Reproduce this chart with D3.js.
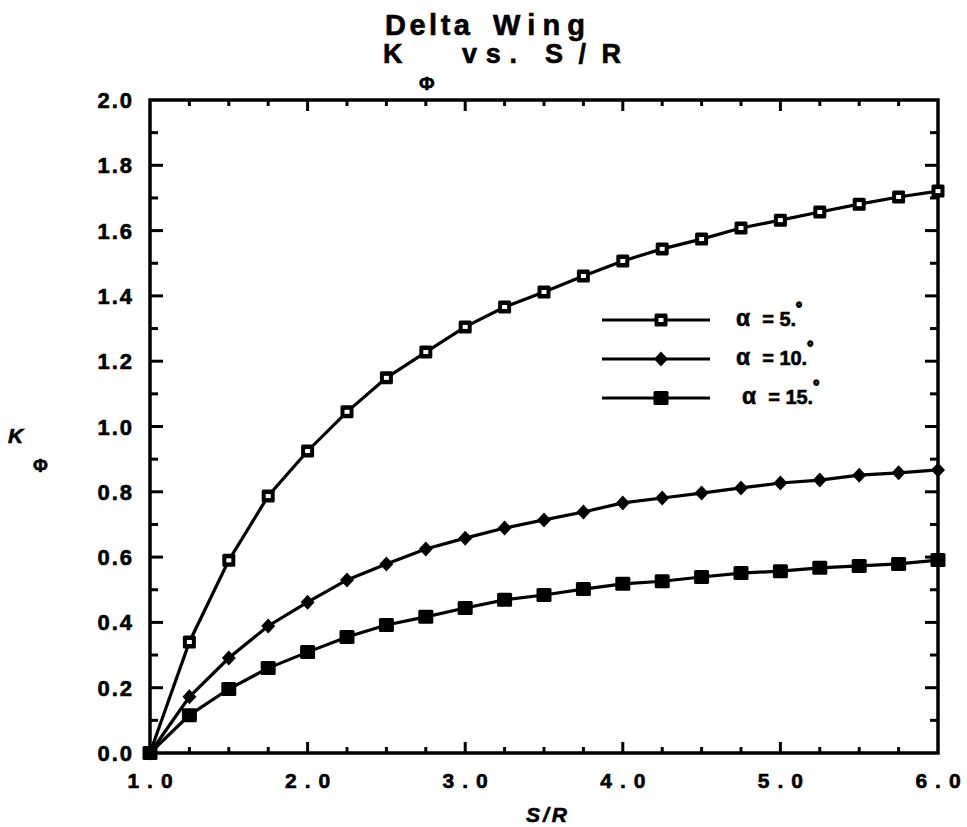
<!DOCTYPE html>
<html>
<head>
<meta charset="utf-8">
<script src="https://cdn.jsdelivr.net/npm/d3@7"></script>
<style>
  body { margin: 0; background: #fff; }
  svg text { font-family: "Liberation Sans", Arial, sans-serif; font-weight: bold; fill: #000;
             stroke: #000; stroke-width: 0.6px; }
</style>
</head>
<body>
<script>
// K_phi against S/R for a delta wing, three angles of attack

var sr = [1.0, 1.25, 1.5, 1.75, 2.0, 2.25, 2.5, 2.75, 3.0, 3.25, 3.5, 3.75,
          4.0, 4.25, 4.5, 4.75, 5.0, 5.25, 5.5, 5.75, 6.0];

var k5  = [0.0, 0.34, 0.59, 0.787, 0.925, 1.045, 1.149, 1.228, 1.305, 1.366, 1.412, 1.461,
           1.507, 1.544, 1.574, 1.608, 1.632, 1.657, 1.681, 1.703, 1.721];
var k10 = [0.0, 0.172, 0.291, 0.389, 0.462, 0.53, 0.579, 0.625, 0.658, 0.689, 0.714, 0.738,
           0.766, 0.781, 0.796, 0.812, 0.827, 0.836, 0.851, 0.858, 0.867];
var k15 = [0.0, 0.116, 0.196, 0.26, 0.309, 0.355, 0.392, 0.417, 0.444, 0.469, 0.484, 0.502,
           0.518, 0.526, 0.539, 0.551, 0.557, 0.567, 0.573, 0.579, 0.591];

var alphas = ["5", "10", "15"];
var markers = ["open", "diamond", "square"];

var xMajor = [1, 2, 3, 4, 5, 6];
var yMajor = [0, 0.2, 0.4, 0.6, 0.8, 1.0, 1.2, 1.4, 1.6, 1.8, 2.0];

var width = 967, height = 827;
var margin = {top: 100, right: 29, bottom: 74, left: 150};

var svg = d3.select("body").append("svg")
    .attr("width", width)
    .attr("height", height);

var x = d3.scaleLinear().domain([1, 6]).range([margin.left, width - margin.right]);
var y = d3.scaleLinear().domain([0, 2]).range([height - margin.bottom, margin.top]);

var xMinor = d3.range(1.25, 6, 0.25);
var yMinor = d3.range(0.1, 2, 0.1);
var fmt = d3.format(".1f");

function isMajor(v, step) { return Math.abs(v / step - Math.round(v / step)) < 1e-6; }

// inward ticks on all four sides
var ticks = svg.append("g").attr("class", "ticks");

function tickLines(cls, data, x1, y1, x2, y2) {
  ticks.selectAll("line." + cls).data(data).enter().append("line")
      .attr("class", cls)
      .attr("x1", x1).attr("y1", y1).attr("x2", x2).attr("y2", y2)
      .style("stroke", "#000")
      .style("stroke-width", "3px");
}

tickLines("xb", xMinor, function(d) { return x(d); }, y(0),
          function(d) { return x(d); }, function(d) { return y(0) - (isMajor(d, 1) ? 11 : 6); });
tickLines("xt", xMinor, function(d) { return x(d); }, y(2),
          function(d) { return x(d); }, function(d) { return y(2) + (isMajor(d, 1) ? 11 : 6); });
tickLines("yl", yMinor, x(1), function(d) { return y(d); },
          function(d) { return x(1) + (isMajor(d, 0.2) ? 13 : 8); }, function(d) { return y(d); });
tickLines("yr", yMinor, x(6), function(d) { return y(d); },
          function(d) { return x(6) - (isMajor(d, 0.2) ? 13 : 8); }, function(d) { return y(d); });

svg.append("rect")
    .attr("x", x(1)).attr("y", y(2))
    .attr("width", x(6) - x(1)).attr("height", y(0) - y(2))
    .attr("fill", "none").attr("stroke", "#000").attr("stroke-width", 3.5);

// tick labels, spaced out character by character
var xlab = svg.selectAll(".xlab").data(xMajor).enter().append("text")
    .attr("class", "xlab")
    .attr("x", function(d) { return x(d); })
    .attr("y", 788)
    .attr("text-anchor", "middle")
    .style("font-size", "21px");
xlab.each(function(d) {
  var s = fmt(d).split(""), t = d3.select(this);
  s.forEach(function(c, i) { t.append("tspan").attr("dx", i ? 8 : 0).text(c); });
});

svg.selectAll(".ylab").data(yMajor).enter().append("text")
    .attr("x", 134)
    .attr("y", function(d) { return y(d) + 8; })
    .attr("text-anchor", "end")
    .style("font-size", "22px")
    .style("letter-spacing", "2px")
    .text(fmt);

// curves
var line = d3.line()
    .x(function(d) { return x(d[0]); })
    .y(function(d) { return y(d[1]); });

function drawMarker(g, type, cx, cy) {
  if (type === "open") {
    g.append("rect").attr("x", cx - 6.5).attr("y", cy - 6.5).attr("width", 13).attr("height", 13)
      .attr("rx", 1.5).attr("fill", "#000");
    g.append("rect").attr("x", cx - 2.5).attr("y", cy - 2).attr("width", 5).attr("height", 4)
      .attr("fill", "#fff");
  } else if (type === "diamond") {
    g.append("path")
      .attr("d", "M" + cx + "," + (cy - 7.5) + "L" + (cx + 7) + "," + cy + "L" + cx + "," + (cy + 7.5) +
                 "L" + (cx - 7) + "," + cy + "Z")
      .attr("fill", "#000");
  } else {
    g.append("rect").attr("x", cx - 7.5).attr("y", cy - 7).attr("width", 15).attr("height", 14)
      .attr("rx", 1.5).attr("fill", "#000");
  }
}

[k5, k10, k15].forEach(function(vals, i) {
  var pts = sr.map(function(s, j) { return [s, vals[j]]; });
  var g = svg.append("g").attr("class", "series");
  g.append("path")
      .datum(pts)
      .attr("d", line)
      .attr("fill", "none")
      .attr("stroke", "#000")
      .attr("stroke-width", 3.2);
  pts.forEach(function(p) { drawMarker(g, markers[i], x(p[0]), y(p[1])); });
});

// legend
var legY = [320, 359, 398];
alphas.forEach(function(a, i) {
  var g = svg.append("g");
  g.append("line").attr("x1", 602).attr("x2", 710).attr("y1", legY[i]).attr("y2", legY[i])
      .attr("stroke", "#000").attr("stroke-width", 3);
  drawMarker(g, markers[i], 661, legY[i]);
  var t = g.append("text").attr("x", 736 + (i === 2 ? 6 : 0)).attr("y", legY[i] + 6)
      .style("font-size", "20px");
  t.append("tspan").style("font-size", "23px").text("\u03b1");
  t.append("tspan").attr("dx", 12).text("= " + a + ".");
  var bb = t.node().getBBox();
  g.append("text").attr("x", bb.x + bb.width).attr("y", legY[i] - 7)
      .style("font-size", "15px").style("stroke-width", "1.5px").text("\u00b0");
});

// titles
svg.append("text").attr("x", 385).attr("y", 35).attr("textLength", 85)
    .attr("lengthAdjust", "spacing").style("font-size", "29px").text("Delta");
svg.append("text").attr("x", 493).attr("y", 35).attr("textLength", 92)
    .attr("lengthAdjust", "spacing").style("font-size", "29px").text("Wing");
svg.append("text").attr("x", 383).attr("y", 63).style("font-size", "27px").text("K");
svg.append("text").attr("x", 419).attr("y", 90).style("font-size", "19px").text("\u03a6");
svg.append("text").attr("x", 462).attr("y", 63).attr("textLength", 55)
    .attr("lengthAdjust", "spacing").style("font-size", "27px").text("vs.");
svg.append("text").attr("x", 545).attr("y", 63).attr("textLength", 76)
    .attr("lengthAdjust", "spacing").style("font-size", "27px").text("S/R");

// axis titles
svg.append("text").attr("x", 548).attr("y", 822).attr("text-anchor", "middle")
    .style("font-size", "21px").style("font-style", "italic").style("letter-spacing", "3px")
    .text("S/R");
svg.append("text").attr("x", 8).attr("y", 443)
    .style("font-size", "21px").style("font-style", "italic").text("K");
svg.append("text").attr("x", 33).attr("y", 472)
    .style("font-size", "18px").text("\u03a6");
</script>
</body>
</html>
